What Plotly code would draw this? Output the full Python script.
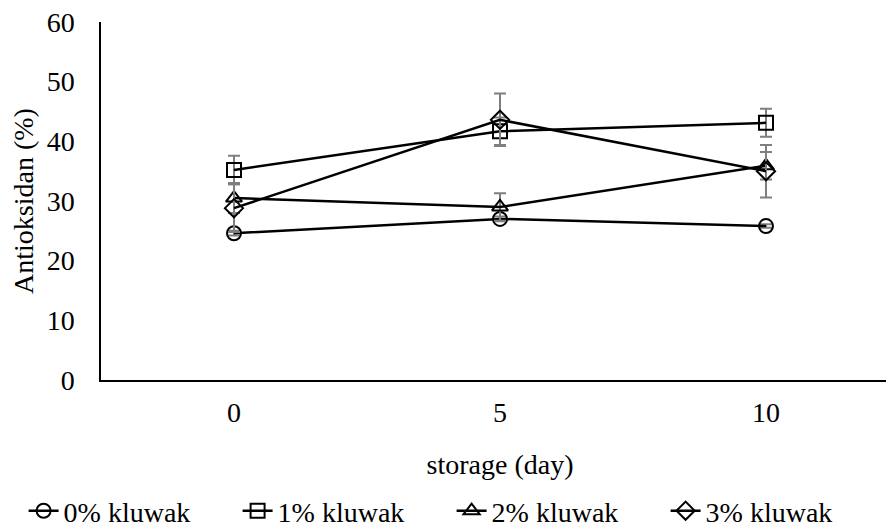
import plotly.graph_objects as go

days = [0, 5, 10]
series_names = ["0% kluwak", "1% kluwak", "2% kluwak", "3% kluwak"]
v0 = [24.6, 27.0, 25.8]
v1 = [35.2, 41.7, 43.1]
v2 = [30.5, 29.0, 35.9]
v3 = [28.8, 43.6, 35.0]
e0 = [0.4, 0.4, 0.3]
e1 = [2.4, 2.3, 2.35]
e2 = [2.5, 2.3, 2.3]
e3 = [4.0, 4.4, 4.4]
symbols = ["circle-open", "square-open", "triangle-up-open", "diamond-open"]

fig = go.Figure()
for name, vals, errs, sym in zip(series_names, [v0, v1, v2, v3], [e0, e1, e2, e3], symbols):
    fig.add_trace(go.Scatter(
        x=days, y=vals, name=name, mode="lines+markers",
        line=dict(color="black", width=2.5),
        marker=dict(symbol=sym, size=14, color="black", line=dict(width=2, color="black")),
        error_y=dict(type="data", array=errs, visible=True, color="#7f7f7f", thickness=2, width=6),
    ))

font = dict(family="Liberation Serif", size=28, color="black")
fig.update_layout(
    width=894, height=531,
    margin=dict(l=93, r=3, t=14, b=159, autoexpand=False),
    paper_bgcolor="white", plot_bgcolor="white",
    font=font,
    showlegend=True,
    legend=dict(orientation="h", x=-0.097, xanchor="left", y=-0.366, yanchor="middle",
                font=font, traceorder="normal", itemwidth=30,
                entrywidth=169, entrywidthmode="pixels"),
    xaxis=dict(range=[-2.5, 12.5], tickvals=days, ticktext=[str(d) for d in days],
               showgrid=False, zeroline=False, showline=True, linecolor="black", linewidth=1.5,
               ticks="", ticklabelstandoff=7, tickfont=font, ticklabeloverflow="allow",
               title=dict(text="storage (day)", font=font, standoff=27)),
    yaxis=dict(range=[0, 60], dtick=10, showgrid=False, zeroline=False, showline=True,
               linecolor="black", linewidth=1.5, ticks="", ticklabelstandoff=19, tickfont=font,
               ticklabeloverflow="allow",
               title=dict(text="Antioksidan (%)", font=font, standoff=14)),
)
fig.write_html("out.html")
